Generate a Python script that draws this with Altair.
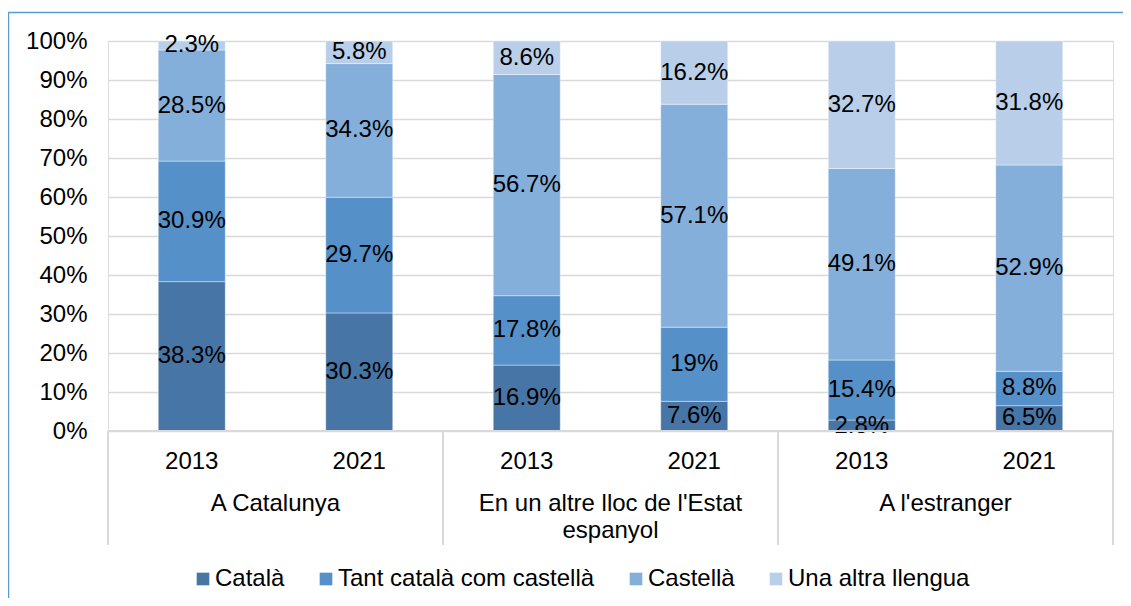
import altair as alt
import pandas as pd

groups = ["A Catalunya", "En un altre lloc de l'Estat espanyol", "A l'estranger"]
group_display = ["A Catalunya", "En un altre lloc de l'Estat\nespanyol", "A l'estranger"]
years = ["2013", "2021"]
languages = ["Català", "Tant català com castellà", "Castellà", "Una altra llengua"]
colors = ["#4775A6", "#5590C8", "#85AFDB", "#B8CEE9"]

# values per language, bar order: Catalunya 2013, 2021, Estat 2013, 2021, Estranger 2013, 2021
catala = [38.3, 30.3, 16.9, 7.6, 2.8, 6.5]
tant = [30.9, 29.7, 17.8, 19, 15.4, 8.8]
castella = [28.5, 34.3, 56.7, 57.1, 49.1, 52.9]
altra = [2.3, 5.8, 8.6, 16.2, 32.7, 31.8]
y_ticks = [0, 0.1, 0.2, 0.3, 0.4, 0.5, 0.6, 0.7, 0.8, 0.9, 1.0]

series = [catala, tant, castella, altra]
keys = [f"{g}|{y}" for g in groups for y in years]

rows = []
for li, (lang, vals) in enumerate(zip(languages, series)):
    for k, v in zip(keys, vals):
        rows.append({"key": k, "lang": lang, "lang_idx": li, "value": v, "label": f"{v:g}%"})
df = pd.DataFrame(rows)

year_df = pd.DataFrame({"key": keys, "year": [k.split("|")[1] for k in keys]})
group_df = pd.DataFrame({"key": [f"{g}|{years[1]}" for g in groups], "name": group_display})
div_df = pd.DataFrame({"key": [keys[0], keys[2], keys[4]]})
end_df = pd.DataFrame({"key": [keys[5]]})

FONT = "Liberation Sans"
FS = 24
W, H = 1005, 390

xscale = alt.Scale(domain=keys, paddingInner=0, paddingOuter=0)
yscale = alt.Scale(domain=[0, 1], nice=False)
yaxis = alt.Axis(format="%", values=y_ticks, title=None, ticks=False, domain=False,
                 labelPadding=21, labelFontSize=FS, labelColor="#000000", labelFont=FONT,
                 gridColor="#D9D9D9", gridWidth=1.5, labelOverlap=False, tickCount=11)

base = alt.Chart(df).transform_stack(
    stack="value",
    groupby=["key"],
    sort=[alt.SortField("lang_idx", order="ascending")],
    as_=["y0", "y1"],
    offset="normalize",
).transform_calculate(mid="(datum.y0 + datum.y1) / 2")

bars = base.mark_bar(size=67, stroke="white", strokeWidth=0.8, strokeOpacity=0.5).encode(
    x=alt.X("key:N", scale=xscale, sort=keys, axis=None),
    y=alt.Y("y0:Q", scale=yscale, axis=yaxis),
    y2="y1:Q",
    color=alt.Color("lang:N", scale=alt.Scale(domain=languages, range=colors),
                    legend=alt.Legend(title=None, orient="none", direction="horizontal",
                                      legendX=83, legendY=526, symbolType="square",
                                      symbolSize=160, symbolStrokeWidth=0,
                                      labelFontSize=FS, labelFont=FONT, labelColor="#000000",
                                      labelLimit=0, columnPadding=29, labelOffset=0,
                                      padding=0)),
)

labels = base.mark_text(fontSize=FS, font=FONT, color="#000000", baseline="middle").encode(
    x=alt.X("key:N", sort=keys),
    y=alt.Y("mid:Q", scale=yscale, axis=yaxis),
    text="label:N",
)

year_text = alt.Chart(year_df).mark_text(fontSize=FS, font=FONT, color="#000000",
                                         baseline="middle").encode(
    x=alt.X("key:N", sort=keys),
    y=alt.value(H + 31),
    text="year:N",
)

group_text = alt.Chart(group_df).mark_text(fontSize=FS, font=FONT, color="#000000",
                                           baseline="middle", lineBreak="\n",
                                           lineHeight=27).encode(
    x=alt.X("key:N", sort=keys, bandPosition=0),
    y=alt.value(H + 73),
    text="name:N",
)

div_rules = alt.Chart(div_df).mark_rule(color="#D9D9D9", strokeWidth=2).encode(
    x=alt.X("key:N", sort=keys, bandPosition=0),
    y=alt.value(H),
    y2=alt.value(H + 114),
)

end_rule = alt.Chart(end_df).mark_rule(color="#D9D9D9", strokeWidth=2).encode(
    x=alt.X("key:N", sort=keys, bandPosition=1),
    y=alt.value(H),
    y2=alt.value(H + 114),
)

base_rule = alt.Chart(end_df).mark_rule(color="#D9D9D9", strokeWidth=2).encode(
    x=alt.value(0),
    x2=alt.value(W),
    y=alt.value(H),
)

border = alt.Chart(pd.DataFrame({"a": [0]})).mark_rect(
    fill="transparent", stroke="#5B9BD5", strokeWidth=1.5
).encode(
    x=alt.value(-99.5),
    x2=alt.value(1200),
    y=alt.value(-28.5),
    y2=alt.value(700),
)

chart = alt.layer(border, bars, labels, base_rule, div_rules, end_rule, year_text, group_text).properties(
    width=W,
    height=H,
    autosize=alt.AutoSizeParams(type="none"),
    padding={"left": 100, "top": 33, "right": 10, "bottom": 167},
).configure_view(stroke=None).configure(font=FONT)

chart.save("out.html", embed_options={"renderer": "svg", "actions": False})
